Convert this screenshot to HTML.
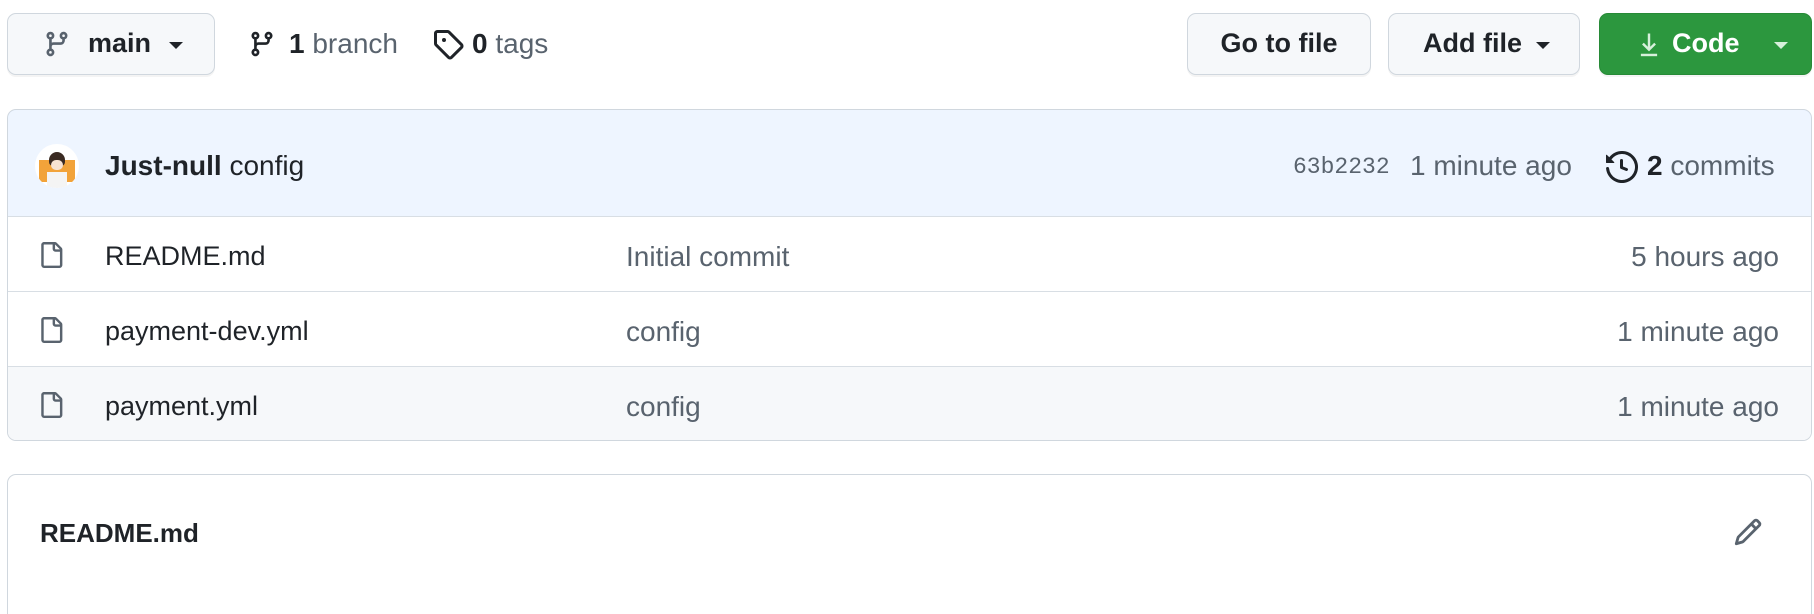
<!DOCTYPE html>
<html style="width:1814px;height:614px;overflow:hidden"><head><meta charset="utf-8"><style>
*{box-sizing:border-box;margin:0;padding:0}
body{width:1814px;height:614px;background:#fff;position:relative;overflow:hidden;font-family:"Liberation Sans",sans-serif;color:#1f2328;font-size:27px}
.a{position:absolute}
.btn{position:absolute;top:13px;height:62px;border:1.5px solid #d0d7de;border-radius:9px;background:#f6f8fa;box-shadow:0 2px 0 rgba(31,35,40,.05)}
.t{position:absolute;white-space:nowrap;line-height:1}
.g{color:#59636e}
.caret{position:absolute;width:0;height:0;border-left:7px solid transparent;border-right:7px solid transparent;border-top:7px solid #1f2328}
.row{position:absolute;left:0;right:0;height:75px;border-top:1.5px solid #d8dee4}
.row .t{top:26px}
.row .g{font-size:28px}
</style></head><body>

<div class="btn" style="left:7px;width:208px">
  <svg class="a" style="left:35px;top:14px" width="28" height="32" viewBox="0 0 16 16"><path fill="#59636e" d="M9.5 3.25a2.25 2.25 0 1 1 3 2.122V6A2.5 2.5 0 0 1 10 8.5H6a1 1 0 0 0-1 1v1.128a2.251 2.251 0 1 1-1.5 0V5.372a2.25 2.25 0 1 1 1.5 0v1.836A2.493 2.493 0 0 1 6 7h4a1 1 0 0 0 1-1v-.628A2.25 2.25 0 0 1 9.5 3.250Zm-6 0a.75.75 0 1 0 1.5 0 .75.75 0 0 0-1.5 0Zm8.25-.75a.75.75 0 1 0 0 1.5.75.75 0 0 0 0-1.5ZM4.25 12a.75.75 0 1 0 0 1.5.75.75 0 0 0 0-1.5Z"/></svg>
  <div class="t" style="left:80px;top:16px;font-weight:bold;font-size:27px">main</div>
  <div class="caret" style="left:161px;top:28px"></div>
</div>
<svg class="a" style="left:248px;top:28px" width="28" height="32" viewBox="0 0 16 16"><path fill="#1f2328" d="M9.5 3.25a2.25 2.25 0 1 1 3 2.122V6A2.5 2.5 0 0 1 10 8.5H6a1 1 0 0 0-1 1v1.128a2.251 2.251 0 1 1-1.5 0V5.372a2.25 2.25 0 1 1 1.5 0v1.836A2.493 2.493 0 0 1 6 7h4a1 1 0 0 0 1-1v-.628A2.25 2.25 0 0 1 9.5 3.250Zm-6 0a.75.75 0 1 0 1.5 0 .75.75 0 0 0-1.5 0Zm8.25-.75a.75.75 0 1 0 0 1.5.75.75 0 0 0 0-1.5ZM4.25 12a.75.75 0 1 0 0 1.5.75.75 0 0 0 0-1.5Z"/></svg>
<div class="t" style="left:289px;top:30px;font-size:28px"><b>1</b> <span class="g">branch</span></div>
<svg class="a" style="left:432px;top:28px" width="32" height="32" viewBox="0 0 16 16"><path fill="#1f2328" d="M1 7.775V2.75C1 1.784 1.784 1 2.75 1h5.025c.464 0 .91.184 1.238.513l6.25 6.25a1.750 1.750 0 0 1 0 2.474l-5.026 5.026a1.75 1.75 0 0 1-2.474 0l-6.25-6.25A1.752 1.752 0 0 1 1 7.775Zm1.5 0c0 .066.026.13.073.177l6.25 6.25a.25.25 0 0 0 .354 0l5.025-5.025a.25.25 0 0 0 0-.354l-6.25-6.25a.25.25 0 0 0-.177-.073H2.75a.25.25 0 0 0-.25.25ZM6 5a1 1 0 1 1 0 2 1 1 0 0 1 0-2Z"/></svg>
<div class="t" style="left:472px;top:30px;font-size:28px"><b>0</b> <span class="g">tags</span></div>

<div class="btn" style="left:1187px;width:184px"><div class="t" style="left:0;right:0;text-align:center;top:16px;font-weight:bold;font-size:27px">Go to file</div></div>
<div class="btn" style="left:1388px;width:192px"><div class="t" style="left:34px;top:16px;font-weight:bold;font-size:27px">Add file</div><div class="caret" style="left:147px;top:28px"></div></div>
<div class="btn" style="left:1599px;width:213px;background:#2c973e;border-color:#278a37">
  <svg class="a" style="left:36px;top:16px" width="26" height="28" viewBox="0 0 16 16"><path fill="#d7f0db" d="M7.25 1.5h1.5v8.19l2.47-2.470 1.06 1.060L8 12.56 3.72 8.28l1.06-1.06 2.47 2.47Z"/><rect x="3" y="14" width="10" height="1.5" fill="#d7f0db"/></svg>
  <div class="t" style="left:72px;top:16px;font-weight:bold;font-size:27px;color:#fff">Code</div>
  <div class="caret" style="left:174px;top:28px;border-top-color:#d7f0db"></div>
</div>

<div class="a" style="left:7px;top:109px;width:1805px;height:332px;border:1.5px solid #d0d7de;border-radius:9px;overflow:hidden">
  <div class="a" style="left:0;right:0;top:0;height:107px;background:#eef5ff;border-bottom:1.5px solid #d8dee4;"></div>
  <div class="a" style="left:-1px;right:-1px;top:-1px;height:108px;border:1.5px solid #b6d4fb;border-bottom:none;border-radius:9px 9px 0 0"></div>
  <div class="a" style="left:27px;top:34px;width:44px;height:44px;border-radius:50%;background:#fff;overflow:hidden">
    <div class="a" style="left:4px;top:16px;width:36px;height:22px;background:#f2a33a"></div>
    <div class="a" style="left:14px;top:8px;width:16px;height:14px;border-radius:8px 8px 4px 4px;background:#3a2a22"></div>
    <div class="a" style="left:16px;top:16px;width:12px;height:10px;border-radius:5px;background:#f7e3d3"></div>
    <div class="a" style="left:12px;top:28px;width:20px;height:16px;background:#f4f4f4"></div>
  </div>
  <div class="t" style="left:97px;top:42px;font-size:28px"><b>Just-null</b> config</div>
  <div class="t g" style="left:1285px;top:46px;font-family:'Liberation Mono',monospace;font-size:23px">63b2232</div>
  <div class="t g" style="left:1402px;top:42px;font-size:28px">1 minute ago</div>
  <svg class="a" style="left:1598px;top:41px" width="32" height="32" viewBox="0 0 16 16"><path fill="#1f2328" d="m.427 1.927 1.215 1.215a8.002 8.002 0 1 1-1.6 5.685.75.75 0 1 1 1.493-.154 6.5 6.5 0 1 0 1.18-4.458l1.358 1.358A.25.25 0 0 1 3.896 6H.25A.25.25 0 0 1 0 5.75V2.104a.25.25 0 0 1 .427-.177ZM7.75 4a.75.75 0 0 1 .75.75v2.992l2.028.812a.75.75 0 0 1-.557 1.392l-2.5-1A.751.751 0 0 1 7 8.25v-3.5A.75.75 0 0 1 7.75 4Z"/></svg>
  <div class="t" style="left:1639px;top:42px;font-size:28px"><b>2</b> <span class="g">commits</span></div>

  <div class="row" style="top:106px">
    <svg class="a" style="left:30px;top:22px" width="26" height="32" viewBox="0 0 16 16"><path fill="#59636e" d="M2 1.75C2 .784 2.784 0 3.75 0h6.586c.464 0 .909.184 1.237.513l2.914 2.914c.329.328.513.773.513 1.237v9.586A1.75 1.75 0 0 1 13.25 16h-9.5A1.75 1.75 0 0 1 2 14.25Zm1.75-.25a.25.25 0 0 0-.25.25v12.5c0 .138.112.25.25.25h9.5a.25.25 0 0 0 .25-.25V6h-2.75A1.75 1.75 0 0 1 9 4.25V1.5Zm6.75.062V4.25c0 .138.112.25.25.25h2.688l-.011-.013-2.914-2.914-.013-.011Z"/></svg>
    <div class="t" style="left:97px">README.md</div>
    <div class="t g" style="left:618px">Initial commit</div>
    <div class="t g" style="right:32px">5 hours ago</div>
  </div>
  <div class="row" style="top:181px">
    <svg class="a" style="left:30px;top:22px" width="26" height="32" viewBox="0 0 16 16"><path fill="#59636e" d="M2 1.75C2 .784 2.784 0 3.75 0h6.586c.464 0 .909.184 1.237.513l2.914 2.914c.329.328.513.773.513 1.237v9.586A1.75 1.75 0 0 1 13.25 16h-9.5A1.75 1.75 0 0 1 2 14.25Zm1.75-.25a.25.25 0 0 0-.25.25v12.5c0 .138.112.25.25.25h9.5a.25.25 0 0 0 .25-.25V6h-2.75A1.75 1.75 0 0 1 9 4.25V1.5Zm6.75.062V4.25c0 .138.112.25.25.25h2.688l-.011-.013-2.914-2.914-.013-.011Z"/></svg>
    <div class="t" style="left:97px">payment-dev.yml</div>
    <div class="t g" style="left:618px">config</div>
    <div class="t g" style="right:32px">1 minute ago</div>
  </div>
  <div class="row" style="top:256px;background:#f6f8fa">
    <svg class="a" style="left:30px;top:22px" width="26" height="32" viewBox="0 0 16 16"><path fill="#59636e" d="M2 1.75C2 .784 2.784 0 3.75 0h6.586c.464 0 .909.184 1.237.513l2.914 2.914c.329.328.513.773.513 1.237v9.586A1.75 1.75 0 0 1 13.25 16h-9.5A1.75 1.75 0 0 1 2 14.25Zm1.75-.25a.25.25 0 0 0-.25.25v12.5c0 .138.112.25.25.25h9.5a.25.25 0 0 0 .25-.25V6h-2.75A1.75 1.75 0 0 1 9 4.25V1.5Zm6.75.062V4.25c0 .138.112.25.25.25h2.688l-.011-.013-2.914-2.914-.013-.011Z"/></svg>
    <div class="t" style="left:97px">payment.yml</div>
    <div class="t g" style="left:618px">config</div>
    <div class="t g" style="right:32px">1 minute ago</div>
  </div>
</div>

<div class="a" style="left:7px;top:474px;width:1805px;height:140px;border:1.5px solid #d0d7de;border-bottom:none;border-radius:9px 9px 0 0">
  <div class="t" style="left:32px;top:45px;font-weight:bold;font-size:26px">README.md</div>
  <svg class="a" style="left:1725px;top:42px" width="30" height="30" viewBox="0 0 16 16"><path fill="#59636e" d="M11.013 1.427a1.75 1.75 0 0 1 2.474 0l1.086 1.086a1.75 1.75 0 0 1 0 2.474l-8.61 8.61c-.21.21-.47.364-.756.445l-3.251.93a.75.75 0 0 1-.927-.928l.929-3.25c.081-.286.235-.547.445-.758l8.610-8.610Zm.176 4.823L9.75 4.81l-6.286 6.287a.253.253 0 0 0-.064.108l-.558 1.953 1.953-.558a.253.253 0 0 0 .108-.064Zm1.238-3.763a.25.25 0 0 0-.354 0L10.811 3.75l1.439 1.44 1.263-1.263a.25.25 0 0 0 0-.354Z"/></svg>
</div>
</body></html>
